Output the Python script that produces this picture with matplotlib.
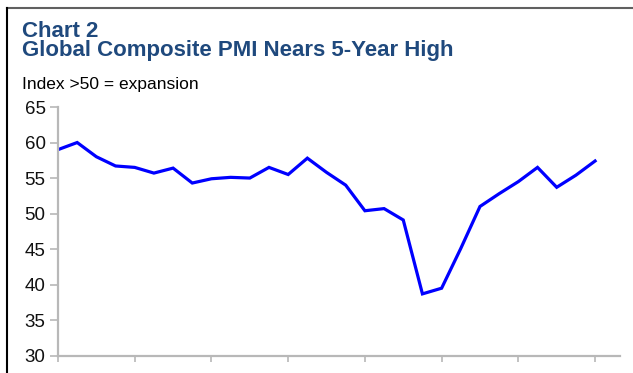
import numpy as np
import matplotlib
matplotlib.use("Agg")
import matplotlib.pyplot as plt
from matplotlib.lines import Line2D

# quarterly global composite PMI
pmi = [59.0, 60.0, 58.0, 56.7, 56.5, 55.7, 56.4, 54.3, 54.9, 55.1,
       55.0, 56.5, 55.5, 57.8, 55.8, 54.0, 50.4, 50.7, 49.1, 38.7,
       39.5, 45.1, 51.0, 52.8, 54.5, 56.5, 53.7, 55.4, 57.4]
yticks = [30, 35, 40, 45, 50, 55, 60, 65]

plt.rcParams['font.family'] = ['Liberation Sans', 'DejaVu Sans']

W, H = 633, 373
fig = plt.figure(figsize=(W / 100, H / 100), dpi=100)
fig.patch.set_facecolor('white')

# frame lines of the original clipping (top grey, left black)
fig.add_artist(Line2D([7 / W, 1], [1 - 8 / H, 1 - 8 / H], color='#606060', lw=1.5))
fig.add_artist(Line2D([7 / W, 7 / W], [0, 1 - 8 / H], color='black', lw=1.5))

ax = fig.add_axes([58 / W, 17.3 / H, (620 - 58) / W, (355.7 - 107) / H])
x = np.arange(len(pmi))
ax.plot(x, pmi, color='#0000ff', lw=2.3, solid_joinstyle='miter')

ax.set_ylim(30, 65)
ax.set_yticks(yticks)
ax.set_xlim(0, 29.3)
ax.set_xticks(np.arange(0, 29, 4))
ax.set_xticklabels([])

for s in ['top', 'right']:
    ax.spines[s].set_visible(False)
for s in ['left', 'bottom']:
    ax.spines[s].set_color('#b8b8b8')
    ax.spines[s].set_linewidth(1.6)
ax.tick_params(axis='y', colors='#b8b8b8', labelcolor='#111111', length=6,
               width=1.2, labelsize=13.5, pad=3)
ax.tick_params(axis='x', colors='#b8b8b8', direction='out', length=4, width=1.2)

blue = '#1F497D'
fig.text(22 / W, 1 - 37 / H, 'Chart 2', fontsize=16, fontweight='bold', color=blue)
fig.text(22 / W, 1 - 56 / H, 'Global Composite PMI Nears 5-Year High', fontsize=16,
         fontweight='bold', color=blue)
fig.text(22 / W, 1 - 89 / H, 'Index >50 = expansion', fontsize=12.5, color='black')

fig.savefig('out.png', dpi=100)
